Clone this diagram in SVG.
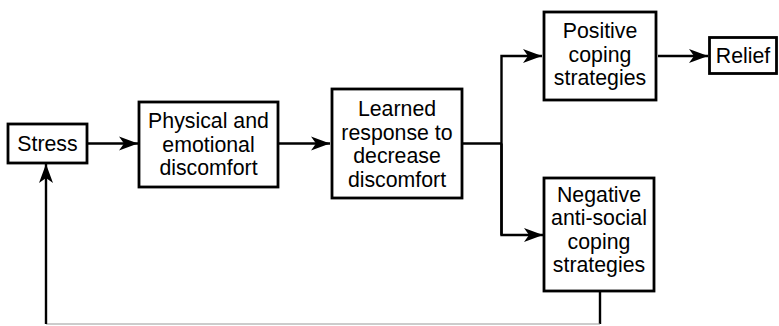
<svg xmlns="http://www.w3.org/2000/svg" width="779" height="326" viewBox="0 0 779 326">
<style>
.box{fill:#fff;stroke:#000;stroke-width:2.8}
.t{font-family:"Liberation Sans",Arial,Helvetica,sans-serif;font-size:21.3px;fill:#000;text-anchor:middle}
.c{fill:none;stroke:#000;stroke-width:2.4}
</style>
<defs>
<marker id="ah" markerUnits="userSpaceOnUse" markerWidth="20" markerHeight="16" refX="19" refY="8" orient="auto">
<path d="M0,1 L19,8 L0,15 L5,8 z" fill="#000"/>
</marker>
</defs>
<g id="connectors">
<line class="c" x1="88" y1="143.5" x2="138" y2="143.5" marker-end="url(#ah)"/>
<line class="c" x1="279" y1="143.5" x2="330" y2="143.5" marker-end="url(#ah)"/>
<polyline class="c" points="463,143.5 501.5,143.5"/>
<polyline class="c" points="501.5,235 501.5,56 542,56" marker-end="url(#ah)"/>
<polyline class="c" points="501.5,143.5 501.5,235 543,235" marker-end="url(#ah)"/>
<line class="c" x1="658" y1="56" x2="708" y2="56" marker-end="url(#ah)"/>
<line class="c" x1="600" y1="292" x2="600" y2="324"/>
<line x1="46" y1="324" x2="600" y2="324" stroke="#999" stroke-width="1"/>
<line class="c" x1="46" y1="324" x2="46" y2="164" marker-end="url(#ah)"/>
</g>
<g id="stress">
<rect class="box" x="8" y="124" width="79" height="39"/>
<text class="t" x="47.5" y="151">Stress</text>
</g>
<g id="physical">
<rect class="box" x="139" y="102" width="139" height="85"/>
<text class="t" x="208.5" y="128">Physical and</text>
<text class="t" x="208.5" y="151.5">emotional</text>
<text class="t" x="208.5" y="175">discomfort</text>
</g>
<g id="learned">
<rect class="box" x="332" y="89" width="130" height="109"/>
<text class="t" x="397" y="116">Learned</text>
<text class="t" x="397" y="139.5">response to</text>
<text class="t" x="397" y="163">decrease</text>
<text class="t" x="397" y="186.5">discomfort</text>
</g>
<g id="positive">
<rect class="box" x="544" y="12" width="112" height="88"/>
<text class="t" x="600" y="38">Positive</text>
<text class="t" x="600" y="61.5">coping</text>
<text class="t" x="600" y="85">strategies</text>
</g>
<g id="relief">
<rect class="box" x="709.5" y="37.5" width="67" height="36"/>
<text class="t" x="743" y="62.5">Relief</text>
</g>
<g id="negative">
<rect class="box" x="544" y="178" width="110" height="113"/>
<text class="t" x="599" y="201.5">Negative</text>
<text class="t" x="599" y="225">anti-social</text>
<text class="t" x="599" y="248.5">coping</text>
<text class="t" x="599" y="272">strategies</text>
</g>
</svg>
